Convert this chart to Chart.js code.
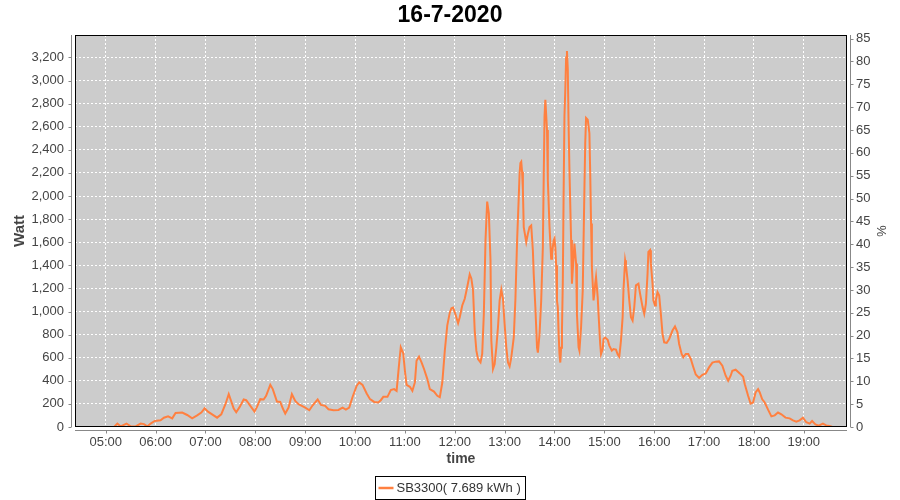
<!DOCTYPE html>
<html>
<head>
<meta charset="utf-8">
<script src="https://cdn.jsdelivr.net/npm/chart.js@4/dist/chart.umd.min.js"></script>
<style>
  html, body { margin: 0; padding: 0; background: #fff; }
  #wrap { width: 900px; height: 500px; position: relative; }
</style>
</head>
<body>
<div id="wrap"><canvas id="chart"></canvas></div>
<script>
const chartTitle = '16-7-2020';
const seriesName = 'SB3300( 7.689 kWh )';

// sample times and power (W), grouped per hour
const times = [
  '04:38','05:10','05:14','05:18','05:25','05:30','05:36','05:42','05:46','05:50','05:54','05:59',
  '06:06','06:10','06:15','06:20','06:24','06:32','06:38','06:44','06:50','06:55','06:59',
  '07:03','07:08','07:14','07:19','07:24','07:28','07:34','07:37','07:41','07:46','07:49','07:54','07:59',
  '08:02','08:06','08:10','08:13','08:18','08:21','08:26','08:30','08:33','08:36','08:40','08:44','08:48','08:52','08:56',
  '09:00','09:05','09:09','09:15','09:19','09:24','09:28','09:34','09:40','09:45','09:49','09:53','09:57',
  '10:02','10:05','10:09','10:14','10:18','10:23','10:28','10:31','10:34','10:39','10:43','10:47','10:50','10:53','10:55','10:58',
  '11:00','11:02','11:06','11:09','11:12','11:14','11:17','11:20','11:23','11:27','11:30','11:35','11:39','11:42','11:45','11:48','11:51','11:54','11:56','11:58',
  '12:01','12:04','12:06','12:09','12:12','12:15','12:18','12:20','12:22','12:24','12:26','12:28','12:31','12:33','12:35','12:37','12:39','12:41','12:43','12:44','12:46','12:48','12:50','12:52','12:54','12:56','12:58',
  '13:00','13:02','13:04','13:06','13:08','13:11','13:13','13:15','13:17','13:18','13:19','13:20','13:21','13:22','13:23','13:25','13:26','13:28','13:30','13:32','13:34','13:35','13:37','13:39','13:40','13:42','13:44','13:46','13:47','13:48','13:49','13:51','13:52','13:54','13:56','13:57','13:58','13:59',
  '14:00','14:01','14:02','14:03','14:04','14:05','14:06','14:07','14:08','14:09','14:10','14:11','14:12','14:13','14:14','14:15','14:16','14:17','14:18','14:20','14:21','14:22','14:24','14:26','14:27','14:29','14:30','14:32','14:34','14:36','14:37','14:38','14:40','14:42','14:43','14:44','14:45','14:47','14:48','14:49','14:50','14:52','14:53','14:55','14:56','14:58','14:59',
  '15:01','15:04','15:06','15:09','15:11','15:14','15:16','15:18','15:20','15:22','15:23','15:25','15:26','15:28','15:30','15:32','15:34','15:36','15:38','15:41','15:43','15:46','15:48','15:50','15:52','15:53','15:55','15:56','15:58','15:59',
  '16:01','16:02','16:04','16:06','16:08','16:10','16:12','16:15','16:18','16:22','16:25','16:28','16:30','16:33','16:35','16:38','16:41','16:44','16:47','16:50','16:54','16:58',
  '17:02','17:06','17:10','17:14','17:18','17:22','17:26','17:29','17:32','17:34','17:38','17:43','17:47','17:49','17:53','17:56','17:59',
  '18:02','18:05','18:07','18:10','18:13','18:17','18:21','18:25','18:29','18:33','18:38','18:43','18:47','18:51','18:55','18:59',
  '19:03','19:07','19:10','19:14','19:18','19:23','19:27','19:31','19:34'
];
const watts = [
  0, 0, 30, 5, 30, 5, 5, 30, 25, 5, 30, 52,
  58, 80, 93, 75, 122, 125, 104, 75, 101, 125, 162,
  133, 110, 81, 110, 197, 284, 160, 128, 172, 238, 232, 183, 133,
  174, 241, 238, 270, 365, 328, 220, 217, 162, 116, 168, 284, 226, 197, 183,
  168, 145, 188, 238, 191, 183, 154, 145, 148, 168, 151, 168, 260,
  357, 386, 365, 290, 241, 217, 212, 232, 261, 261, 319, 328, 313, 545, 690, 638,
  487, 365, 348, 313, 386, 574, 609, 560, 502, 415, 328, 307, 270, 258, 385, 660, 880, 990, 1029, 1035,
  972, 899, 951, 1052, 1110, 1212, 1322, 1284, 1183, 835, 661, 588, 559, 632, 980, 1618, 1951, 1850, 1444, 748, 502, 545, 690, 864, 1096, 1190, 1110,
  890, 690, 560, 525, 600, 775, 1110, 1610, 1990, 2195, 2285, 2296, 2209, 2050, 1731, 1644, 1600, 1673, 1731, 1745, 1528, 1325, 1035, 687, 644, 803, 1093, 1557, 2137, 2687, 2832, 2571, 2137, 1731, 1457, 1499, 1560, 1615,
  1632, 1557, 1400, 1093, 1038, 803, 632, 558, 687, 835, 1250, 2021, 2690, 2919, 3200, 3256, 3100, 2600, 2226, 1618, 1241, 1357, 1589, 1415, 980, 690, 661, 864, 1183, 2052, 2458, 2676, 2661, 2545, 2197, 1763, 1386, 1096, 1154, 1241, 1299, 1125, 980, 719, 632, 675, 762,
  775, 755, 705, 661, 675, 670, 630, 609, 748, 951, 1183, 1444, 1400, 1270, 1096, 951, 922, 1038, 1226, 1241, 1154, 1038, 980, 1067, 1328, 1516, 1531, 1415, 1241, 1096,
  1052, 1096, 1168, 1139, 980, 806, 733, 728, 762, 835, 870, 820, 719, 632, 603, 632, 632, 590, 520, 455, 425, 452,
  464, 516, 557, 566, 568, 531, 444, 400, 444, 487, 496, 464, 435, 371, 270, 203, 212,
  299, 328, 299, 240, 212, 150, 92, 101, 125, 110, 81, 75, 58, 46, 58, 81,
  41, 29, 52, 23, 12, 29, 14, 9, 3
];

const xTickLabels = ['05:00','06:00','07:00','08:00','09:00','10:00','11:00','12:00','13:00','14:00','15:00','16:00','17:00','18:00','19:00'];
const wattTicks = [0, 200, 400, 600, 800, 1000, 1200, 1400, 1600, 1800, 2000, 2200, 2400, 2600, 2800, 3000, 3200];
const pctTicks = [0, 5, 10, 15, 20, 25, 30, 35, 40, 45, 50, 55, 60, 65, 70, 75, 80, 85];
const xRange = ['04:23', '19:52'];
const wattMax = 3394;
const pctMax = 85.8;

const toMin = t => { const [h, m] = t.split(':').map(Number); return h * 60 + m; };
const fmtMin = v => String(Math.floor(v / 60)).padStart(2, '0') + ':' + String(Math.round(v % 60)).padStart(2, '0');

Chart.defaults.font.family = "'Liberation Sans', Arial, sans-serif";
Chart.defaults.color = '#444';

// grey plot area, black frame, detached grey axis lines and legend box
const plotDecor = {
  id: 'plotDecor',
  beforeDraw(chart) {
    const { ctx, chartArea: a } = chart;
    ctx.save();
    ctx.fillStyle = '#cccccc';
    ctx.fillRect(a.left, a.top, a.right - a.left, a.bottom - a.top);
    ctx.restore();
  },
  afterDraw(chart) {
    const { ctx, chartArea: a, scales } = chart;
    ctx.save();
    ctx.strokeStyle = '#000';
    ctx.lineWidth = 1;
    ctx.strokeRect(a.left + 0.5, a.top + 0.5, a.right - a.left - 1, a.bottom - a.top - 1);

    ctx.strokeStyle = '#888';
    ctx.beginPath();
    const lx = a.left - 3.5, rx = a.right + 3.5, by = a.bottom + 3.5;
    ctx.moveTo(lx, a.top); ctx.lineTo(lx, a.bottom);
    ctx.moveTo(rx, a.top); ctx.lineTo(rx, a.bottom);
    ctx.moveTo(a.left, by); ctx.lineTo(a.right, by);
    scales.y.ticks.forEach(t => {
      const p = Math.round(scales.y.getPixelForValue(t.value)) + 0.5;
      ctx.moveTo(lx - 3, p); ctx.lineTo(lx, p);
    });
    scales.y1.ticks.forEach(t => {
      const p = Math.round(scales.y1.getPixelForValue(t.value)) + 0.5;
      ctx.moveTo(rx, p); ctx.lineTo(rx + 3, p);
    });
    scales.x.ticks.forEach(t => {
      const p = Math.round(scales.x.getPixelForValue(t.value)) + 0.5;
      ctx.moveTo(p, by); ctx.lineTo(p, by + 3);
    });
    ctx.stroke();

    // legend
    const ds = chart.data.datasets[0];
    ctx.font = "13px 'Liberation Sans', Arial, sans-serif";
    const tw = ctx.measureText(ds.label).width;
    const bw = Math.round(tw + 26), bh = 23;
    const bx = Math.round(chart.width / 2 - bw / 2) + 0.5, byy = 476.5;
    ctx.strokeStyle = '#000';
    ctx.strokeRect(bx, byy, bw, bh);
    ctx.strokeStyle = ds.borderColor;
    ctx.lineWidth = 2.5;
    ctx.beginPath();
    ctx.moveTo(bx + 3, byy + 11.5); ctx.lineTo(bx + 18, byy + 11.5);
    ctx.stroke();
    ctx.fillStyle = '#333';
    ctx.textBaseline = 'middle';
    ctx.fillText(ds.label, bx + 21, byy + 12);
    ctx.restore();
  }
};

new Chart(document.getElementById('chart'), {
  type: 'line',
  data: {
    datasets: [{
      label: seriesName,
      data: times.map((t, i) => ({ x: toMin(t), y: watts[i] })),
      borderColor: '#ff8040',
      borderWidth: 2,
      pointRadius: 0,
      tension: 0,
      fill: false,
      yAxisID: 'y'
    }]
  },
  options: {
    responsive: true,
    maintainAspectRatio: false,
    animation: false,
    locale: 'en-US',
    layout: { padding: { top: 0, left: 0, right: 0, bottom: 30 } },
    plugins: {
      legend: { display: false },
      tooltip: { enabled: false },
      title: {
        display: true,
        text: chartTitle,
        color: '#000',
        font: { size: 23, weight: 'bold' },
        padding: { top: 2, bottom: 5.4 }
      }
    },
    scales: {
      x: {
        type: 'linear',
        min: toMin(xRange[0]),
        max: toMin(xRange[1]),
        afterBuildTicks: axis => { axis.ticks = xTickLabels.map(l => ({ value: toMin(l) })); },
        afterFit: s => { s.height = 43; },
        ticks: { font: { size: 13 }, padding: 8, maxRotation: 0, autoSkip: false, callback: v => fmtMin(v) },
        grid: { color: '#ffffff', lineWidth: 1, drawTicks: false },
        border: { display: false, dash: [2, 2] },
        title: { display: true, text: 'time', color: '#444', font: { size: 14, weight: 'bold' }, padding: { top: 0, bottom: 2 } }
      },
      y: {
        position: 'left',
        min: 0,
        max: wattMax,
        afterBuildTicks: axis => { axis.ticks = wattTicks.map(v => ({ value: v })); },
        afterFit: s => { s.width = 75; },
        ticks: { font: { size: 13 }, padding: 11, autoSkip: false, callback: v => v.toLocaleString('en-US') },
        grid: { color: '#ffffff', lineWidth: 1, drawTicks: false },
        border: { display: false, dash: [2, 2] },
        title: { display: true, text: 'Watt', color: '#444', font: { size: 15, weight: 'bold' }, padding: { top: 11, bottom: 0 } }
      },
      y1: {
        position: 'right',
        min: 0,
        max: pctMax,
        afterBuildTicks: axis => { axis.ticks = pctTicks.map(v => ({ value: v })); },
        afterFit: s => { s.width = 53; },
        ticks: { font: { size: 13 }, padding: 9, autoSkip: false },
        grid: { display: false, drawTicks: false },
        border: { display: false },
        title: { display: true, text: '%', color: '#444', font: { size: 13 }, padding: { top: 12, bottom: 0 } }
      }
    }
  },
  plugins: [plotDecor]
});
</script>
</body>
</html>
